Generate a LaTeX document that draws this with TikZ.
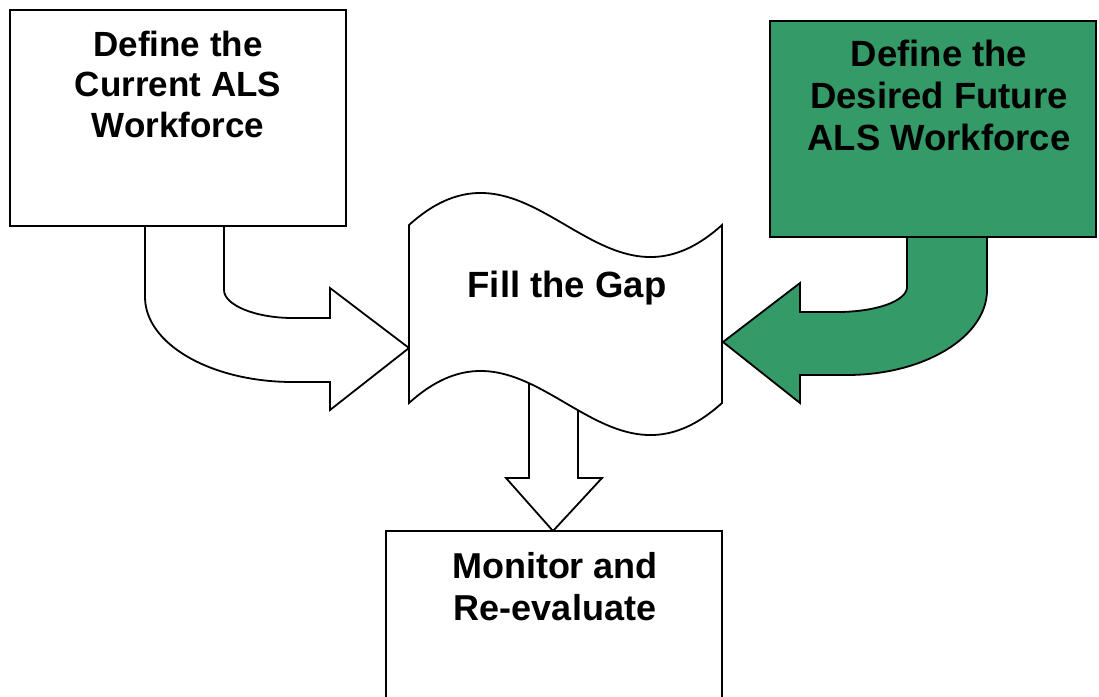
\documentclass[tikz,border=0pt]{standalone}
\usepackage{fontspec}
\setmainfont{Liberation Sans}
\definecolor{arrgreen}{RGB}{52,154,104}
\begin{document}
\begin{tikzpicture}[x=1pt,y=-1pt, line width=1.8pt, line join=miter,
  box/.style={draw=black, rectangle, inner sep=0pt, outer sep=0pt, anchor=north west},
  lbl/.style={font=\fontsize{36}{42}\selectfont\bfseries, align=center, inner sep=0pt, anchor=base},
  blockarrow/.style={draw=black, fill=white}]
\clip (0,0) rectangle (1099,696);
\fill[white] (0,0) rectangle (1099,696);
% left bent arrow
\draw[blockarrow] (224,226) -- (224,290) .. controls (224,305) and (255,318) .. (293,318)
  -- (330,318) -- (330,288) -- (409,348) -- (330,410) -- (330,382) -- (293,382)
  .. controls (211,382) and (145,344) .. (145,297) -- (145,226) -- cycle;
\node[box, fill=white, minimum width=336pt, minimum height=216pt] (cur) at (10,10) {};
% right green bent arrow
\draw[blockarrow, fill=arrgreen] (907,237) -- (907,287) .. controls (907,301) and (876,312) .. (837,312)
  -- (800,312) -- (800,283) -- (723,342) -- (800,403) -- (800,375) -- (847,375)
  .. controls (924,375) and (987,337) .. (987,290) -- (987,237) -- cycle;
\node[box, fill=arrgreen, minimum width=326pt, minimum height=216pt] (fut) at (770,21) {};
% down arrow
\draw[blockarrow] (529,380) -- (529,478) -- (506,478) -- (553,531) -- (602,478) -- (578,478) -- (578,380) -- cycle;
% punched tape
\draw[blockarrow] (409,225) .. controls (532,114) and (599,336) .. (722,225) -- (722,403)
  .. controls (599,514) and (532,292) .. (409,403) -- cycle;
\node[box, fill=white, minimum width=336pt, minimum height=200pt] (mon) at (386,531) {};
% texts (base anchor = baseline of the last line)
\node[lbl, font=\fontsize{35}{40.5}\selectfont\bfseries] (curtext) at (178,137) {Define the\\Current ALS\\Workforce};
\node[lbl, font=\fontsize{36.5}{42}\selectfont\bfseries] (futtext) at (939,150) {Define the\\Desired Future\\ALS Workforce};
\node[lbl, font=\fontsize{36.5}{42}\selectfont\bfseries] (gap) at (567,297) {Fill the Gap};
\node[lbl] (montext) at (555,620) {Monitor and\\Re-evaluate};
\end{tikzpicture}
\end{document}
